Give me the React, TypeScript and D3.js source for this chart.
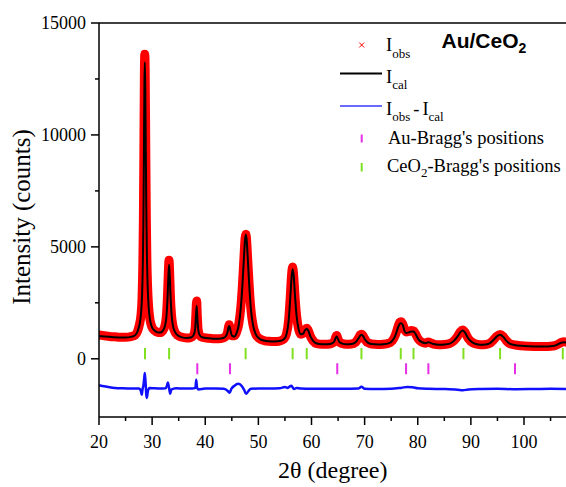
import React from "react";
import * as d3 from "d3";

// 2θ grid of the refinement profile (degrees)
const twoTheta = [
  20, 21, 22, 23, 24, 25, 26, 26.8, 27.3, 27.6, 27.9, 28.1, 28.25, 28.35, 28.45, 28.55, 28.62, 28.7, 28.8, 28.9,
  29.0, 29.15, 29.35, 29.6, 30.0, 30.5, 31.0, 31.5, 32.0, 32.4, 32.7, 32.9, 33.05, 33.18, 33.3, 33.45, 33.65, 33.9, 34.3, 34.8,
  35.5, 36.5, 37.3, 37.8, 38.1, 38.25, 38.38, 38.5, 38.65, 38.9, 39.4, 40.5, 41.5, 42.5, 43.4, 43.9, 44.2, 44.4, 44.5, 44.65,
  44.85, 45.1, 45.5, 45.9, 46.3, 46.7, 47.0, 47.3, 47.5, 47.65, 47.8, 48.0, 48.3, 48.6, 49.0, 49.5, 50.2, 51, 52, 53,
  54, 54.8, 55.3, 55.7, 56.0, 56.25, 56.45, 56.65, 56.9, 57.2, 57.6, 58.0, 58.4, 58.8, 59.1, 59.4, 59.8, 60.3, 61, 62,
  63, 63.8, 64.3, 64.6, 64.75, 64.95, 65.3, 65.8, 66.5, 67.5, 68.3, 68.8, 69.2, 69.45, 69.75, 70.1, 70.6, 71.3, 72.5, 73.5,
  74.5, 75.2, 75.8, 76.3, 76.6, 76.85, 77.2, 77.5, 77.8, 78.3, 78.8, 79.2, 79.6, 80.1, 80.8, 81.5, 82.0, 82.4, 83, 84,
  85, 86, 86.8, 87.5, 88.0, 88.45, 88.9, 89.4, 90, 90.8, 91.8, 92.8, 93.6, 94.3, 94.9, 95.5, 96.1, 96.7, 97.3, 98.2,
  99.5, 101, 102.5, 104, 105, 105.8, 106.4, 107, 107.5, 108,
];

// calculated intensity (counts)
const iCal = [
  1020, 1000, 980, 960, 950, 950, 980, 1050, 1250, 1500, 2000, 2800, 4200, 6000, 9000, 12300, 13250, 12300, 9500, 6800,
  4900, 3300, 2300, 1750, 1400, 1250, 1180, 1170, 1250, 1450, 1900, 2700, 3600, 4200, 3800, 2900, 2000, 1500, 1200, 1050,
  970, 930, 950, 1050, 1350, 1900, 2370, 1900, 1350, 1080, 960, 920, 900, 900, 930, 1020, 1200, 1420, 1470, 1380,
  1150, 1020, 1000, 1150, 1500, 2300, 3300, 4600, 5350, 5540, 5300, 4500, 3200, 2200, 1500, 1100, 900, 820, 780, 770,
  790, 870, 1100, 1700, 2700, 3650, 4000, 3700, 2800, 1900, 1300, 1100, 1120, 1280, 1340, 1250, 1000, 800, 680, 650,
  650, 680, 780, 950, 1000, 900, 740, 680, 650, 660, 740, 900, 1040, 1070, 1000, 850, 720, 660, 640, 650,
  690, 800, 1050, 1400, 1560, 1590, 1500, 1250, 1150, 1180, 1220, 1220, 1100, 880, 740, 700, 740, 710, 660, 630,
  640, 680, 800, 1000, 1180, 1260, 1170, 950, 780, 670, 630, 640, 700, 850, 1000, 1070, 980, 800, 680, 620,
  580, 560, 550, 550, 560, 590, 650, 720, 740, 730,
];

// observed intensity (counts)
const iObs = [
  1060, 1030, 1000, 980, 960, 960, 990, 1060, 1260, 1520, 1950, 2700, 4200, 6100, 9300, 12900, 13600, 12700, 9500, 6500,
  4600, 3200, 2300, 1750, 1400, 1250, 1180, 1170, 1250, 1460, 1950, 2850, 3850, 4400, 3850, 2750, 1950, 1500, 1200, 1050,
  970, 930, 950, 1050, 1370, 2050, 2580, 1950, 1320, 1070, 960, 920, 900, 900, 930, 1010, 1180, 1440, 1520, 1400,
  1140, 1030, 1030, 1190, 1540, 2320, 3300, 4580, 5400, 5560, 5250, 4400, 3150, 2180, 1500, 1100, 900, 820, 780, 770,
  790, 880, 1120, 1740, 2760, 3750, 4100, 3700, 2780, 1900, 1300, 1100, 1130, 1300, 1360, 1260, 1000, 800, 680, 650,
  650, 680, 790, 980, 1040, 910, 740, 680, 650, 660, 740, 910, 1070, 1100, 1010, 850, 720, 660, 640, 650,
  690, 800, 1070, 1440, 1620, 1650, 1540, 1320, 1200, 1220, 1260, 1250, 1110, 880, 740, 700, 750, 710, 660, 630,
  640, 680, 800, 1010, 1200, 1290, 1180, 950, 780, 670, 630, 640, 700, 850, 1010, 1090, 990, 800, 680, 620,
  580, 560, 550, 550, 560, 590, 650, 730, 760, 740,
];

// difference curve I_obs - I_cal as plotted (shifted down)
const diffTheta = [
  20, 21, 22, 23, 24.5, 26, 27.5, 27.9, 28.05, 28.2, 28.35, 28.5, 28.62, 28.75, 28.9, 29.0, 29.2, 29.5, 30.5, 31.5,
  32.5, 32.8, 32.95, 33.15, 33.4, 33.6, 34.5, 36, 37.5, 38.15, 38.3, 38.45, 38.7, 40, 42, 43.5, 44.3, 44.6, 44.9, 45.5,
  46.2, 46.8, 47.3, 47.7, 48.1, 48.6, 50, 52, 54, 55, 55.5, 56.2, 56.7, 57.2, 58, 60, 63, 66, 68.8, 69.4,
  70, 72, 75, 77, 78, 79, 80, 82, 85, 87.5, 88.5, 89.5, 92, 95, 98, 102, 105, 108,
];
const iDiff = [
  -1180, -1230, -1270, -1300, -1320, -1330, -1330, -1450, -1610, -1350, -1200, -900, -640, -1000, -1600, -1750, -1450, -1300, -1320, -1330,
  -1320, -1200, -1060, -1250, -1560, -1380, -1320, -1330, -1330, -1300, -940, -1280, -1370, -1330, -1330, -1340, -1450, -1520, -1350, -1200,
  -1120, -1200, -1380, -1560, -1450, -1340, -1330, -1330, -1320, -1260, -1300, -1200, -1350, -1300, -1330, -1340, -1340, -1340, -1330, -1250,
  -1340, -1350, -1340, -1290, -1260, -1270, -1320, -1340, -1350, -1380, -1410, -1370, -1350, -1340, -1360, -1350, -1340, -1350,
];

// Bragg reflection positions (2θ)
const ceo2Bragg = [28.66, 33.2, 47.6, 56.45, 59.1, 69.4, 76.8, 79.2, 88.6, 95.5, 107.3];
const auBragg = [38.5, 44.65, 64.85, 77.8, 82.0, 98.3];

const xTicks = [20, 30, 40, 50, 60, 70, 80, 90, 100];
const xMinorTicks = [25, 35, 45, 55, 65, 75, 85, 95, 105];
const yTicks = [0, 5000, 10000, 15000];
const yMinorTicks = [2500, 7500, 12500];

const SERIF = "'Liberation Serif', 'Times New Roman', Times, serif";
const SANS = "'Liberation Sans', Arial, Helvetica, sans-serif";

export default function App() {
  const W = 566;
  const H = 487;
  const x = d3.scaleLinear().domain([20, 108]).range([99, 566.5]);
  const y = d3.scaleLinear().domain([-2600, 15000]).range([417, 23]);
  const left = x(20);
  const right = x(108);
  const top = y(15000);
  const bottom = y(-2600);

  const calData = twoTheta.map((t, i) => [t, iCal[i]] as [number, number]);
  const obsData = twoTheta.map((t, i) => [t, iObs[i]] as [number, number]);
  const diffData = diffTheta.map((t, i) => [t, iDiff[i]] as [number, number]);

  const line = d3
    .line<[number, number]>()
    .x((d) => x(d[0]))
    .y((d) => y(d[1]))
    .curve(d3.curveMonotoneX);

  const cross = (cx: number, cy: number, s: number, key: string) => (
    <path
      key={key}
      d={`M${cx - s},${cy - s}L${cx + s},${cy + s}M${cx - s},${cy + s}L${cx + s},${cy - s}`}
      stroke="#ff0000"
      strokeWidth={1}
      fill="none"
    />
  );

  return (
    <svg
      width={W}
      height={H}
      viewBox={`0 0 ${W} ${H}`}
      style={{ position: "absolute", left: 0, top: 0, background: "#fff" }}
    >
      <defs>
        <clipPath id="plot">
          <rect x={left} y={top} width={right - left} height={bottom - top} />
        </clipPath>
      </defs>

      <g clipPath="url(#plot)">
        {/* observed: dense red crosses forming a band */}
        <path d={line(obsData) || ""} fill="none" stroke="#ff0000" strokeWidth={9} strokeLinejoin="round" strokeLinecap="round" />
        {obsData.map((d, i) => cross(x(d[0]), y(d[1]), 3, `o${i}`))}
        {/* calculated */}
        <path d={line(calData) || ""} fill="none" stroke="#000" strokeWidth={2} strokeLinejoin="round" />
        {/* difference */}
        <path d={line(diffData) || ""} fill="none" stroke="#1010ff" strokeWidth={2.5} strokeLinejoin="round" />
        {/* Bragg positions */}
        {ceo2Bragg.map((t, i) => (
          <line key={`c${i}`} x1={x(t)} x2={x(t)} y1={y(480)} y2={y(-20)} stroke="#7fe020" strokeWidth={2} />
        ))}
        {auBragg.map((t, i) => (
          <line key={`a${i}`} x1={x(t)} x2={x(t)} y1={y(-200)} y2={y(-690)} stroke="#e62ee6" strokeWidth={2} />
        ))}
      </g>

      {/* frame */}
      <line x1={left} x2={right} y1={top} y2={top} stroke="#000" strokeWidth={1.5} />
      <line x1={left} x2={left} y1={top} y2={bottom} stroke="#000" strokeWidth={1.5} />
      <line x1={left} x2={right} y1={bottom} y2={bottom} stroke="#000" strokeWidth={1.5} />

      {/* x ticks */}
      {xTicks.map((t) => (
        <g key={`xt${t}`}>
          <line x1={x(t)} x2={x(t)} y1={bottom} y2={bottom + 8} stroke="#000" strokeWidth={1.5} />
          <text x={x(t)} y={bottom + 31} textAnchor="middle" fontFamily={SERIF} fontSize={18} fill="#000">
            {t}
          </text>
        </g>
      ))}
      {xMinorTicks.map((t) => (
        <line key={`xm${t}`} x1={x(t)} x2={x(t)} y1={bottom} y2={bottom + 4} stroke="#000" strokeWidth={1.5} />
      ))}

      {/* y ticks */}
      {yTicks.map((t) => (
        <g key={`yt${t}`}>
          <line x1={left - 8} x2={left} y1={y(t)} y2={y(t)} stroke="#000" strokeWidth={1.5} />
          <text x={left - 13} y={y(t) + 6} textAnchor="end" fontFamily={SERIF} fontSize={18} fill="#000">
            {t}
          </text>
        </g>
      ))}
      {yMinorTicks.map((t) => (
        <line key={`ym${t}`} x1={left - 4} x2={left} y1={y(t)} y2={y(t)} stroke="#000" strokeWidth={1.5} />
      ))}

      {/* axis titles */}
      <text x={(left + right) / 2} y={478} textAnchor="middle" fontFamily={SERIF} fontSize={24} fill="#000">
        2θ (degree)
      </text>
      <text
        transform={`translate(29.5, 217) rotate(-90)`}
        textAnchor="middle"
        fontFamily={SERIF}
        fontSize={25}
        fill="#000"
      >
        Intensity (counts)
      </text>

      {/* legend */}
      <g fontFamily={SERIF} fontSize={18.5} fill="#000">
        {cross(361.7, 45, 2.5, "lg")}
        <text x={386} y={51}>
          I<tspan dy={7} fontSize={13}>obs</tspan>
        </text>

        <line x1={340} x2={382} y1={73.5} y2={73.5} stroke="#000" strokeWidth={2} />
        <text x={386} y={83}>
          I<tspan dy={6} fontSize={13}>cal</tspan>
        </text>

        <line x1={340} x2={382} y1={106} y2={106} stroke="#6a6aff" strokeWidth={2} />
        <text x={386} y={115}>
          I<tspan dy={6} fontSize={13}>obs</tspan>
          <tspan dy={-6} dx={3}>-</tspan>
          <tspan dx={3}>I</tspan>
          <tspan dy={6} fontSize={13}>cal</tspan>
        </text>

        <line x1={361.7} x2={361.7} y1={134.5} y2={142.5} stroke="#e62ee6" strokeWidth={2} />
        <text x={388} y={143.5}>Au-Bragg's positions</text>

        <line x1={361.7} x2={361.7} y1={163} y2={171.5} stroke="#7fe020" strokeWidth={2} />
        <text x={387} y={171.5}>
          CeO<tspan dy={5} fontSize={13}>2</tspan>
          <tspan dy={-5}>-Bragg's positions</tspan>
        </text>
      </g>

      <text x={441.5} y={48} fontFamily={SANS} fontWeight="bold" fontSize={21} fill="#000">
        Au/CeO<tspan dy={5} fontSize={14}>2</tspan>
      </text>
    </svg>
  );
}
